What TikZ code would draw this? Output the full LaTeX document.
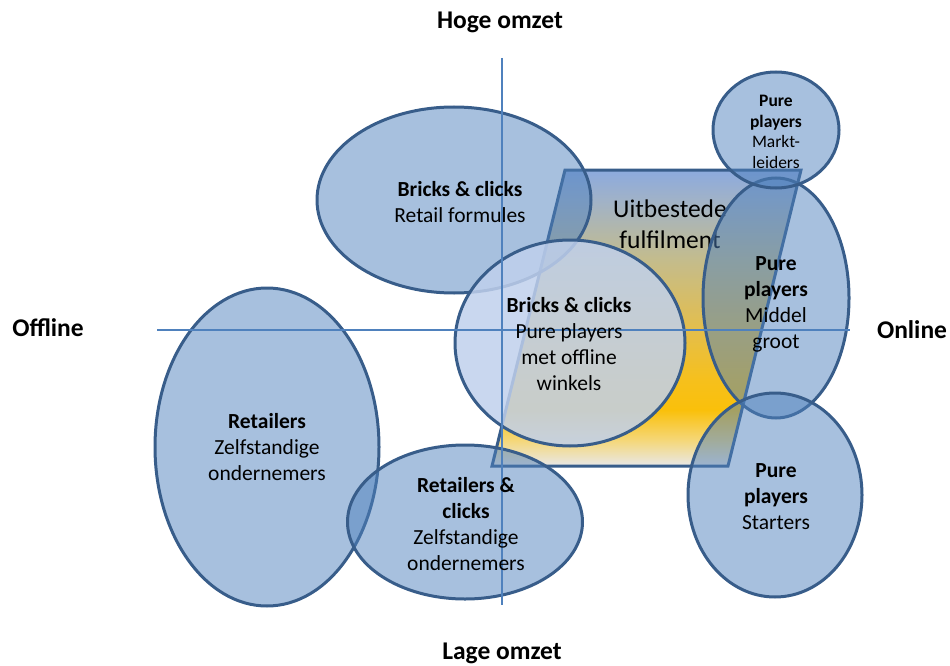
\documentclass[tikz,border=0pt]{standalone}
\usepackage{fontspec}
\setmainfont{Carlito}
\usetikzlibrary{shapes.geometric}
\definecolor{acc}{RGB}{79,129,189}
\definecolor{edgeblue}{RGB}{56,93,138}
\definecolor{innerblue}{RGB}{192,208,236}
\definecolor{fa}{RGB}{232,232,232}
\definecolor{fb}{RGB}{245,215,120}
\definecolor{fc}{RGB}{250,192,10}
\definecolor{fd}{RGB}{246,192,28}
\definecolor{fe}{RGB}{228,190,75}
\definecolor{ff}{RGB}{196,188,140}
\definecolor{fg}{RGB}{160,178,200}
\definecolor{fh}{RGB}{140,170,222}
\pgfdeclareverticalshading{fulfil}{100bp}{color(0bp)=(fa); color(25bp)=(fa); color(29.4bp)=(fb); color(34.5bp)=(fc); color(39.5bp)=(fd); color(48bp)=(fe); color(59.8bp)=(ff); color(70bp)=(fg); color(75bp)=(fh); color(100bp)=(fh)}
\begin{document}
\begin{tikzpicture}[x=1pt,y=-1pt,
  blob/.style={ellipse, draw=edgeblue, line width=3pt, fill=acc, fill opacity=0.5, draw opacity=1, inner sep=0pt},
  innerblob/.style={blob, fill=innerblue, fill opacity=0.85},
  lbl/.style={align=center, text=black, inner sep=0pt, font=\fontsize{21.5}{26}\selectfont},
  smalllbl/.style={align=center, text=black, inner sep=0pt, font=\fontsize{17.5}{20.7}\selectfont},
  biglbl/.style={align=center, text=black, inner sep=0pt, font=\fontsize{25.5}{31}\selectfont},
  axl/.style={text=black, inner sep=0pt, font=\fontsize{25.5}{30}\selectfont\bfseries},
  axisline/.style={draw=acc, line width=1.5pt}]
\useasboundingbox (0,0) rectangle (950,666);
% parallelogram
\coordinate (p1) at (565,170);
\coordinate (p2) at (801,170);
\coordinate (p3) at (728,466);
\coordinate (p4) at (492,466);
\path[shading=fulfil] (p1) -- (p2) -- (p3) -- (p4) -- cycle;
\draw[edgeblue, line width=3pt] (p1) -- (p2) -- (p3) -- (p4) -- cycle;
\node[biglbl] (uit) at (670,224) {Uitbestede\\fulfilment};
% ellipses
\node[blob, minimum width=274pt, minimum height=186pt] (rf) at (454,200) {};
\node[blob, minimum width=224pt, minimum height=318pt] (rt) at (267,447) {};
\node[blob, minimum width=235pt, minimum height=154pt] (rc) at (465,522) {};
\node[blob, minimum width=146pt, minimum height=240pt] (mg) at (776,298) {};
\node[blob, minimum width=174pt, minimum height=204pt] (st) at (775,495) {};
\node[blob, minimum width=126pt, minimum height=116pt] (ml) at (776,130) {};
\node[innerblob, minimum width=230pt, minimum height=206pt] (cc) at (570,343) {};
% axes
\coordinate (vtop) at (502,58);
\coordinate (vbot) at (502,605);
\coordinate (hl) at (157,330);
\coordinate (hr) at (850,330);
\draw[axisline] (vtop) -- (vbot);
\draw[axisline] (hl) -- (hr);
% labels
\node[lbl] at (460,202) {\textbf{Bricks \& clicks}\\Retail formules};
\node[lbl] at (569,344) {\textbf{Bricks \& clicks}\\Pure players\\met offline\\winkels};
\node[lbl] at (267,447) {\textbf{Retailers}\\Zelfstandige\\ondernemers};
\node[lbl] at (466,524) {\textbf{Retailers \&}\\\textbf{clicks}\\Zelfstandige\\ondernemers};
\node[lbl] at (776,304) {\textbf{Pure}\\\textbf{players}\\Middel\\groot};
\node[lbl] at (776,497) {\textbf{Pure}\\\textbf{players}\\Starters};
\node[smalllbl] at (776,132) {\textbf{Pure}\\\textbf{players}\\Markt-\\leiders};
% axis labels
\node[axl] (hoge) at (500,22) {Hoge omzet};
\node[axl] (lage) at (502,653) {Lage omzet};
\node[axl] (off) at (48,328) {Offline};
\node[axl] (on) at (912,330) {Online};
\end{tikzpicture}
\end{document}
